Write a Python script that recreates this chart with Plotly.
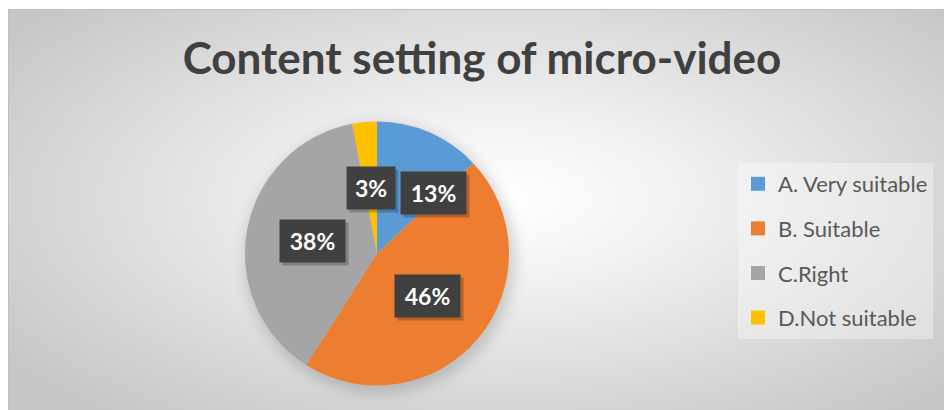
import base64
import math
import plotly.graph_objects as go

# ---- data ----
categories = ["A. Very suitable", "B. Suitable", "C.Right", "D.Not suitable"]
values = [13, 46, 38, 3]
colors = ["#5B9BD5", "#ED7D31", "#A5A5A5", "#FFC000"]
title_text = "Content setting of micro-video"

# ---- layout geometry (px) ----
W, H = 944, 410
cx, cy, R = 377, 253.5, 132
label_r = 0.5
label_shift = [(30, 0), (0, 0), (0, 0), (0, 0)]

# background (radial gradient + border + pie shadow)
svg = f'''<svg xmlns="http://www.w3.org/2000/svg" width="{W}" height="{H}" viewBox="0 0 {W} {H}">
<defs>
<radialGradient id="g" cx="0.5" cy="0.42" r="0.62">
<stop offset="0" stop-color="#ffffff"/>
<stop offset="0.3" stop-color="#f1f1f1"/>
<stop offset="1" stop-color="#c6c6c6"/>
</radialGradient>
<filter id="b" x="-30%" y="-30%" width="160%" height="160%"><feGaussianBlur stdDeviation="7"/></filter>
</defs>
<rect x="0" y="0" width="{W}" height="{H}" fill="#ffffff"/>
<rect x="8.5" y="9.5" width="{W + 40}" height="{H + 40}" fill="url(#g)" stroke="#c0c0c0" stroke-width="1"/>
<circle cx="{cx + 3}" cy="{cy + 5}" r="{R + 3}" fill="rgba(0,0,0,0.16)" filter="url(#b)"/>
</svg>'''
svg_uri = "data:image/svg+xml;base64," + base64.b64encode(svg.encode()).decode()

fig = go.Figure()

fig.add_trace(go.Pie(
    labels=categories,
    values=values,
    marker=dict(colors=colors, line=dict(width=0)),
    sort=False,
    direction="clockwise",
    rotation=0,
    textinfo="none",
    hoverinfo="label+percent",
    showlegend=False,
    domain=dict(x=[(cx - R) / W, (cx + R) / W], y=[1 - (cy + R) / H, 1 - (cy - R) / H]),
))

# legend entries
for name, col in zip(categories, colors):
    fig.add_trace(go.Scatter(
        x=[None], y=[None], mode="markers", name=name, legendgroup=name,
        marker=dict(symbol="square", size=14, color=col),
        showlegend=True, hoverinfo="skip",
    ))

# data labels
total = sum(values)
annotations = []
cum = 0
for i, v in enumerate(values):
    mid = (cum + v / 2) / total
    cum += v
    th = 2 * math.pi * mid
    px = cx + label_r * R * math.sin(th) + label_shift[i][0]
    py = cy - label_r * R * math.cos(th) + label_shift[i][1]
    txt = f"{v}%"
    w = 12 + 17 * len(txt)
    common = dict(x=px / W, y=1 - py / H, xref="paper", yref="paper",
                  xanchor="center", yanchor="middle", showarrow=False,
                  width=w, height=40)
    shadow = dict(common)
    shadow.update(text=" ", bgcolor="rgba(0,0,0,0.22)", xshift=3, yshift=-3,
                  font=dict(family="Lato", size=22))
    annotations.append(shadow)
    main = dict(common)
    main.update(text=f"<b>{txt}</b>", bgcolor="#404040",
                font=dict(family="Lato", size=23, color="#ffffff"))
    annotations.append(main)

fig.update_layout(
    width=W, height=H,
    margin=dict(l=0, r=0, t=0, b=0),
    paper_bgcolor="#ffffff",
    plot_bgcolor="rgba(0,0,0,0)",
    xaxis=dict(visible=False, domain=[0, 0.01]),
    yaxis=dict(visible=False, domain=[0, 0.01]),
    title=dict(text=f"<b>{title_text}</b>", x=482 / W, xanchor="center",
               y=1 - 59 / H, yanchor="middle", yref="container",
               font=dict(family="Lato", size=44, color="#404040")),
    legend=dict(x=738 / W, y=1 - 163 / H, xanchor="left", yanchor="top",
                bgcolor="rgba(255,255,255,0.35)", borderwidth=0,
                font=dict(family="Lato", size=22, color="#595959"),
                tracegroupgap=13,
                entrywidth=165),
    images=[dict(source=svg_uri, xref="paper", yref="paper", x=0, y=1,
                 sizex=1, sizey=1, sizing="stretch", layer="below",
                 xanchor="left", yanchor="top")],
    annotations=annotations,
    showlegend=True,
)

fig.write_html("out.html")
